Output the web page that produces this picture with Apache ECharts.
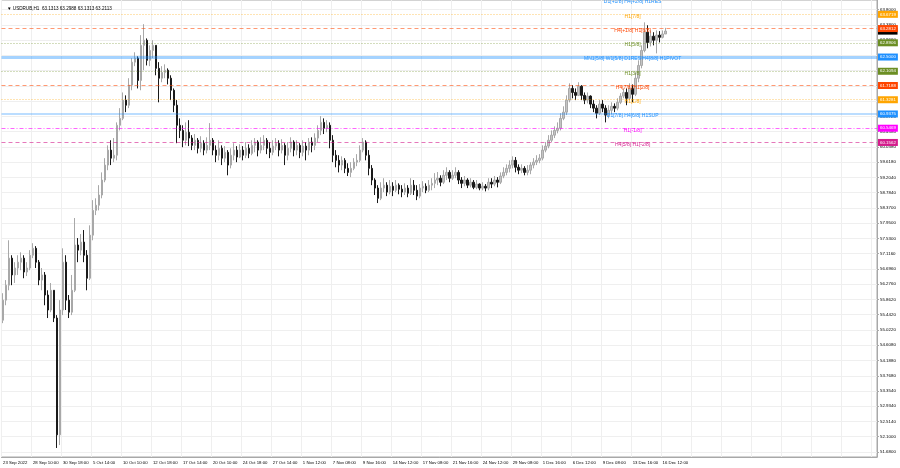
<!DOCTYPE html>
<html><head><meta charset="utf-8">
<script src="https://cdn.jsdelivr.net/npm/echarts@6/dist/echarts.min.js"></script>
<style>html,body{margin:0;padding:0;background:#fff}#c{width:900px;height:468px}</style>
</head><body><div id="c"></div>
<script>
// ---- data (H1 bars) ----
const opens = [
55.29,55.84,56.25,56.99,56.53,56.72,56.88,56.99,56.61,56.72,
57.07,57.26,56.88,56.39,56.53,55.98,55.57,56.11,55.35,52.15,
55.57,56.88,55.84,55.51,56.11,57.35,57.21,57.43,57.07,56.44,
57.62,58.30,58.44,58.72,59.13,59.54,59.95,59.73,59.81,60.63,
60.82,61.32,61.18,61.73,62.36,62.47,61.86,62.82,62.96,62.41,
62.68,62.82,62.19,61.92,62.08,62.14,61.92,61.59,61.18,60.63,
60.49,60.22,60.44,60.28,60.08,60.22,60.00,60.14,59.95,60.08,
60.22,59.95,59.81,60.00,59.73,59.89,59.54,59.81,59.95,59.76,
59.95,59.81,60.00,59.86,60.08,60.17,59.95,60.08,60.22,60.00,
59.89,60.06,60.14,59.95,60.08,59.81,60.00,60.17,59.95,60.08,
59.89,60.06,59.95,60.17,60.08,60.28,60.49,60.71,60.55,60.63,
60.22,59.81,59.67,59.54,59.67,59.45,59.34,59.45,59.62,59.67,
59.95,60.17,59.81,59.45,59.13,58.91,58.63,58.91,58.99,58.80,
58.96,58.85,58.99,58.88,58.80,58.91,58.77,58.99,58.85,58.69,
58.91,58.96,58.85,58.99,59.04,59.13,59.18,59.07,59.26,59.34,
59.18,59.26,59.34,59.13,59.04,59.13,58.99,59.07,58.93,59.02,
58.91,58.96,58.91,59.07,59.02,59.13,59.07,59.24,59.34,59.45,
59.54,59.67,59.48,59.40,59.45,59.34,59.40,59.54,59.62,59.67,
59.73,59.95,60.06,60.22,60.36,60.49,60.55,60.82,60.99,61.32,
61.64,61.53,61.45,61.70,61.45,61.32,61.43,61.21,61.10,60.96,
61.21,61.10,60.91,61.04,61.15,61.10,61.26,61.43,61.53,61.37,
61.64,61.48,61.92,62.27,62.68,63.18,62.90,63.07,62.96,63.10,
63.04,63.1313];
const closes = [
55.84,56.25,56.99,56.53,56.72,56.88,56.99,56.61,56.72,57.07,
57.26,56.88,56.39,56.53,55.98,55.57,56.11,55.35,52.15,55.57,
56.88,55.84,55.51,56.11,57.35,57.21,57.43,57.07,56.44,57.62,
58.30,58.44,58.72,59.13,59.54,59.95,59.73,59.81,60.63,60.82,
61.32,61.18,61.73,62.36,62.47,61.86,62.82,62.96,62.41,62.68,
62.82,62.19,61.92,62.08,62.14,61.92,61.59,61.18,60.63,60.49,
60.22,60.44,60.28,60.08,60.22,60.00,60.14,59.95,60.08,60.22,
59.95,59.81,60.00,59.73,59.89,59.54,59.81,59.95,59.76,59.95,
59.81,60.00,59.86,60.08,60.17,59.95,60.08,60.22,60.00,59.89,
60.06,60.14,59.95,60.08,59.81,60.00,60.17,59.95,60.08,59.89,
60.06,59.95,60.17,60.08,60.28,60.49,60.71,60.55,60.63,60.22,
59.81,59.67,59.54,59.67,59.45,59.34,59.45,59.62,59.67,59.95,
60.17,59.81,59.45,59.13,58.91,58.63,58.91,58.99,58.80,58.96,
58.85,58.99,58.88,58.80,58.91,58.77,58.99,58.85,58.69,58.91,
58.96,58.85,58.99,59.04,59.13,59.18,59.07,59.26,59.34,59.18,
59.26,59.34,59.13,59.04,59.13,58.99,59.07,58.93,59.02,58.91,
58.96,58.91,59.07,59.02,59.13,59.07,59.24,59.34,59.45,59.54,
59.67,59.48,59.40,59.45,59.34,59.40,59.54,59.62,59.67,59.73,
59.95,60.06,60.22,60.36,60.49,60.55,60.82,60.99,61.32,61.64,
61.53,61.45,61.70,61.45,61.32,61.43,61.21,61.10,60.96,61.21,
61.10,60.91,61.04,61.15,61.10,61.26,61.43,61.53,61.37,61.64,
61.48,61.92,62.27,62.68,63.18,62.90,63.07,62.96,63.10,63.04,
63.1313,63.2113];
const lows = [
55.21,55.70,56.11,56.25,56.31,56.53,56.66,56.44,56.50,56.66,
56.99,56.72,56.25,56.11,55.70,55.35,55.51,55.24,51.79,51.87,
55.43,55.57,55.35,55.43,56.06,56.88,57.07,56.88,56.11,56.39,
57.48,58.17,58.30,58.63,59.07,59.40,59.54,59.62,59.67,60.49,
60.77,60.99,61.10,61.59,62.25,61.64,61.59,62.14,62.27,62.25,
62.47,62.00,61.26,61.81,61.92,61.75,61.32,60.99,60.14,60.28,
60.03,60.08,60.06,59.95,59.95,59.86,59.89,59.81,59.86,59.95,
59.81,59.62,59.67,59.54,59.62,59.26,59.45,59.67,59.62,59.73,
59.67,59.73,59.73,59.81,59.89,59.78,59.86,59.95,59.84,59.73,
59.81,59.95,59.78,59.86,59.54,59.67,59.89,59.78,59.81,59.73,
59.78,59.67,59.81,59.89,59.95,60.17,60.36,60.39,60.44,60.00,
59.62,59.48,59.34,59.40,59.32,59.24,59.21,59.40,59.51,59.62,
59.89,59.67,59.26,58.99,58.72,58.50,58.58,58.80,58.69,58.74,
58.69,58.80,58.74,58.66,58.72,58.66,58.72,58.72,58.58,58.63,
58.80,58.77,58.80,58.85,58.91,58.99,58.96,59.02,59.13,59.07,
59.13,59.18,59.02,58.91,58.96,58.91,58.93,58.88,58.88,58.85,
58.85,58.82,58.85,58.91,58.96,58.93,59.02,59.18,59.26,59.34,
59.45,59.34,59.29,59.32,59.26,59.26,59.29,59.45,59.54,59.59,
59.67,59.89,60.00,60.17,60.28,60.41,60.49,60.77,60.91,61.26,
61.37,61.32,61.43,61.32,61.21,61.23,61.10,60.99,60.82,60.91,
60.99,60.71,60.82,60.93,60.99,61.04,61.21,61.37,61.18,61.32,
61.26,61.43,61.81,62.19,62.63,62.74,62.79,62.82,62.60,62.90,
63.01,63.1313];
const highs = [
56.03,56.39,57.48,57.07,56.88,57.07,57.15,57.07,56.88,57.21,
57.40,57.32,56.94,56.72,56.61,56.11,56.31,56.11,55.43,55.84,
57.26,57.07,55.98,56.53,58.09,57.54,57.65,57.76,57.21,57.89,
58.58,58.63,58.99,59.34,59.73,60.08,60.22,60.28,60.71,61.10,
61.53,61.45,61.92,62.47,62.63,62.52,63.10,63.40,63.01,62.82,
62.96,62.82,62.36,62.25,62.30,62.19,62.00,61.64,61.32,60.82,
60.63,60.71,60.77,60.36,60.39,60.28,60.33,60.22,60.30,60.69,
60.28,60.08,60.22,60.08,60.06,59.95,60.00,60.14,60.06,60.11,
60.06,60.17,60.11,60.22,60.28,60.22,60.30,60.36,60.28,60.17,
60.22,60.28,60.22,60.25,60.14,60.17,60.30,60.22,60.22,60.14,
60.22,60.17,60.28,60.30,60.41,60.63,60.88,60.82,60.77,60.71,
60.36,59.95,59.81,59.78,59.73,59.59,59.62,59.73,59.84,60.08,
60.28,60.22,59.95,59.54,59.18,58.99,59.07,59.18,59.07,59.13,
59.07,59.13,59.04,58.99,59.04,58.99,59.18,59.13,58.99,59.02,
59.10,59.04,59.13,59.18,59.32,59.35,59.26,59.40,59.48,59.40,
59.40,59.48,59.40,59.21,59.24,59.18,59.18,59.13,59.13,59.04,
59.07,59.02,59.18,59.18,59.24,59.21,59.34,59.48,59.56,59.67,
59.78,59.76,59.56,59.56,59.51,59.54,59.62,59.73,59.81,59.84,
60.08,60.17,60.36,60.49,60.60,60.71,60.96,61.15,61.45,61.78,
61.73,61.64,61.81,61.73,61.53,61.53,61.45,61.32,61.18,61.32,
61.32,61.18,61.18,61.26,61.23,61.37,61.51,61.64,61.64,61.78,
61.75,62.08,62.41,62.82,63.45,63.37,63.23,63.18,63.23,63.21,
63.23,63.2988];

const xTickLabels = ["23 Sep 2022","28 Sep 10:00","30 Sep 18:00","5 Oct 14:00","10 Oct 10:00",
  "12 Oct 18:00","17 Oct 14:00","20 Oct 10:00","24 Oct 18:00","27 Oct 14:00","1 Nov 12:00",
  "7 Nov 08:00","9 Nov 16:00","14 Nov 12:00","17 Nov 08:00","21 Nov 16:00","24 Nov 12:00",
  "29 Nov 08:00","1 Dec 16:00","6 Dec 12:00","9 Dec 08:00","13 Dec 16:00","16 Dec 12:00"];
const yTickValues = [51.68,52.10,52.514,52.934,53.354,53.768,54.188,54.608,55.022,55.442,
  55.862,56.276,56.696,57.116,57.530,57.950,58.370,58.784,59.204,59.618,60.038,60.458,
  60.872,61.292,61.712,62.126,62.546,62.966,63.380,63.800];

// Murrey-math levels
const levelValues = [63.6719,63.2812,62.8906,62.5000,62.1094,61.7188,61.3281,60.9375,60.5469,60.1562];
const levelTexts = ["H1[7/8]","H4[+1/8] H1[6/8]","H1[5/8]","MN1[5/8] W1[5/8] D1RES H4[8/8] H1PIVOT",
  "H1[3/8]","H4[7/8] H1[2/8]","H1[1/8]","D1[7/8] H4[6/8] H1SUP","H1[-1/8]","H4[5/8] H1[-2/8]"];
const topLevelValue = 64.0625;
const topLevelText = "D1[+1/8] H4[+2/8] H1RES";
const lastPrice = 63.2113;
const headerText = "\u25BC USDRUB,H1  63.1313 63.2988 63.1313 63.2113";

// ---- styles ----
const slots = 292;      // bar slots across the plot (incl. empty shift area)
const textAnchor = 210; // bar slot where level captions are centred
const FONT = '"Liberation Sans", Arial, sans-serif';
const levelStyle = [
  {c:'#ffa500', line:'rgba(255,165,0,0.6)',   t:[1,2],     w:1},
  {c:'#ff4500', line:'rgba(255,69,0,0.55)',   t:[4,3],     w:1},
  {c:'#6b8e23', line:'rgba(107,142,35,0.6)',  t:[1,2],     w:1},
  {c:'#1e90ff', line:'rgba(30,144,255,0.4)',  t:'solid',   w:3},
  {c:'#6b8e23', line:'rgba(107,142,35,0.6)',  t:[1,2],     w:1},
  {c:'#ff4500', line:'rgba(255,69,0,0.55)',   t:[4,3],     w:1},
  {c:'#ffa500', line:'rgba(255,165,0,0.6)',   t:[1,2],     w:1},
  {c:'#1e90ff', line:'rgba(30,144,255,0.3)',  t:'solid',   w:2},
  {c:'#ff00ff', line:'rgba(255,0,255,0.6)',   t:[4,2,1,2], w:1},
  {c:'#d41c8c', line:'rgba(212,28,140,0.6)',  t:[4,3],     w:1}
];

const categories = Array.from({length: slots}, (_, i) => String(i));
const candles = opens.map((o, i) => [o, closes[i], lows[i], highs[i]]);

const boxLabel = (txt, bg) => ({show: true, position: 'end', formatter: txt, backgroundColor: bg,
  color: '#fff', fontSize: 4.4, fontFamily: FONT, padding: [1.5, 2], distance: 1, opacity: 1});

const markLineData = [{
  yAxis: lastPrice, lineStyle: {color: 'rgba(0,0,0,0)', width: 0}, label: boxLabel(lastPrice.toFixed(4), '#000')
}].concat(levelValues.map((v, i) => ({
  yAxis: v,
  lineStyle: {color: levelStyle[i].line, type: levelStyle[i].t, width: levelStyle[i].w},
  label: boxLabel(v.toFixed(4), levelStyle[i].c)
})));

const markPointData = levelValues.map((v, i) => ({
  coord: [textAnchor, v], value: levelTexts[i],
  label: {color: levelStyle[i].c, formatter: levelTexts[i]}
})).concat([{
  coord: [textAnchor, topLevelValue], value: topLevelText,
  label: {color: '#1e90ff', formatter: topLevelText}
}]);

const chart = echarts.init(document.getElementById('c'), null, {renderer: 'canvas'});
chart.setOption({
  animation: false,
  backgroundColor: '#ffffff',
  title: {text: headerText, left: 2, top: 1,
    textStyle: {fontSize: 4.6, fontWeight: 'normal', color: '#000', fontFamily: FONT}},
  grid: {left: 0, right: 23, top: 0, bottom: 11, show: true, borderColor: '#a8a8a8', borderWidth: 1},
  xAxis: {
    type: 'category', data: categories, boundaryGap: true,
    axisLine: {show: true, lineStyle: {color: '#a8a8a8'}},
    axisTick: {show: false},
    axisLabel: {interval: 9, align: 'left', fontSize: 4.3, margin: 4, color: '#000', fontFamily: FONT,
      formatter: (val) => xTickLabels[Number(val) / 10] || ''},
    splitLine: {show: true, interval: 9, lineStyle: {color: '#efefef', width: 1}}
  },
  yAxis: {
    type: 'value', position: 'right', min: 51.543, max: 64.0625,
    axisLine: {show: true, lineStyle: {color: '#a8a8a8'}},
    axisTick: {show: true, length: 2, customValues: yTickValues, lineStyle: {color: '#a8a8a8'}},
    axisLabel: {customValues: yTickValues, formatter: (v) => v.toFixed(4), fontSize: 4.4, margin: 3,
      color: '#000', fontFamily: FONT},
    splitLine: {show: true, lineStyle: {color: '#efefef', width: 1}}
  },
  series: [{
    type: 'candlestick',
    data: candles,
    barWidth: 2,
    itemStyle: {color: '#c4c4c4', color0: '#1a1a1a', borderColor: '#a8a8a8', borderColor0: '#1a1a1a', borderWidth: 1},
    markLine: {silent: true, symbol: ['none', 'none'], animation: false, data: markLineData},
    markPoint: {silent: true, symbol: 'circle', symbolSize: 0, animation: false,
      label: {show: true, position: 'inside', fontSize: 5, fontFamily: FONT, offset: [0, 2]},
      data: markPointData}
  }]
});
</script>
</body></html>
